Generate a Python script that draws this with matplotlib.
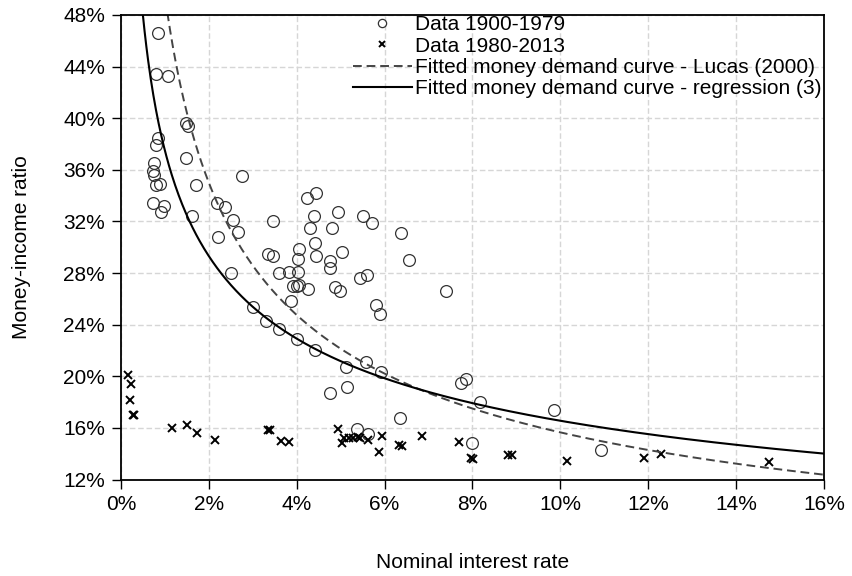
import numpy as np
import matplotlib
matplotlib.use("Agg")
import matplotlib.pyplot as plt
from matplotlib.ticker import FuncFormatter

plt.rcParams['font.family'] = ['Liberation Sans', 'DejaVu Sans']

# money-income data 1900-1979 (interest rate %, ratio %)
old_rate = [0.85, 0.79, 1.07, 1.47, 1.53, 0.85, 0.79, 0.76, 0.74, 0.76, 0.79, 0.89,
            1.48, 1.71, 2.75, 0.74, 0.99, 0.92, 1.62, 2.18, 2.37, 2.55, 2.66, 2.21,
            3.47, 4.23, 4.43, 4.40, 4.95, 4.30, 4.81, 5.51, 5.71, 6.37, 4.06, 4.41,
            3.35, 3.45, 4.02, 4.45, 5.04, 4.76, 4.76, 6.56, 3.59, 3.83, 4.04, 2.50,
            5.45, 5.61, 3.92, 4.00, 4.06, 4.26, 4.88, 4.99, 7.39, 3.88, 5.81, 5.89,
            3.01, 3.29, 3.59, 4.00, 4.42, 5.58, 5.12, 5.92, 5.14, 4.76, 6.35, 5.37,
            5.63, 7.74, 7.85, 8.17, 9.85, 8.00, 10.92]
old_ratio = [46.6, 43.4, 43.3, 39.6, 39.4, 38.5, 37.9, 36.5, 35.9, 35.6, 34.8, 34.9,
             36.9, 34.8, 35.5, 33.4, 33.2, 32.7, 32.4, 33.4, 33.1, 32.1, 31.2, 30.8,
             32.0, 33.8, 34.2, 32.4, 32.75, 31.5, 31.5, 32.4, 31.9, 31.1, 29.9, 30.3,
             29.5, 29.3, 29.1, 29.3, 29.6, 28.9, 28.4, 29.0, 28.0, 28.1, 28.1, 28.0,
             27.6, 27.85, 27.0, 27.0, 27.1, 26.8, 26.9, 26.6, 26.6, 25.85, 25.5, 24.85,
             25.4, 24.25, 23.7, 22.9, 22.0, 21.1, 20.7, 20.3, 19.2, 18.7, 16.8, 15.9,
             15.55, 19.5, 19.8, 18.0, 17.4, 14.8, 14.3]

# data 1980-2013
new_rate = [0.15, 0.23, 0.20, 0.27, 0.30, 1.15, 1.51, 1.72, 2.15, 3.34, 3.39, 3.64,
            3.82, 4.95, 5.02, 5.07, 5.20, 5.29, 5.39, 5.44, 5.63, 5.95, 5.87, 6.33,
            6.39, 6.86, 7.69, 7.96, 8.02, 8.81, 8.89, 10.16, 11.9, 12.3, 14.75]
new_ratio = [20.1, 19.4, 18.2, 17.0, 17.0, 16.0, 16.2, 15.6, 15.1, 15.8, 15.8, 15.0,
             14.9, 15.9, 14.8, 15.2, 15.2, 15.2, 15.3, 15.2, 15.1, 15.4, 14.1, 14.65,
             14.6, 15.4, 14.9, 13.7, 13.6, 13.9, 13.9, 13.4, 13.7, 13.95, 13.35]

# fitted curves  m = A * r^(-b)
lucas_A, lucas_b = 0.0495, 0.5
reg_A, reg_b = 0.0731, 0.355

r = np.linspace(0.001, 0.16, 800)
lucas = lucas_A * r ** (-lucas_b)
reg = reg_A * r ** (-reg_b)

fig = plt.figure(figsize=(8.52, 5.76), dpi=100)
ax = fig.add_axes([0.142, 0.1675, 0.825, 0.8065])

ax.plot(np.array(old_rate) / 100, np.array(old_ratio) / 100, 'o', ms=8.5, mfc='none',
        mec='#333333', mew=0.9, label='Data 1900-1979')
ax.plot(np.array(new_rate) / 100, np.array(new_ratio) / 100, 'x', ms=6, color='black',
        mew=1.4, label='Data 1980-2013')
ax.plot(r, lucas, '--', color='#444444', lw=1.4, dashes=(4.5, 2.5),
        label='Fitted money demand curve - Lucas (2000)')
ax.plot(r, reg, '-', color='black', lw=1.5,
        label='Fitted money demand curve - regression (3)')

ax.set_xlim(0, 0.16)
ax.set_ylim(0.12, 0.48)
ax.set_xticks(np.arange(0, 0.161, 0.02))
ax.set_yticks(np.arange(0.12, 0.481, 0.04))
pct = FuncFormatter(lambda v, p: f"{v * 100:.0f}%")
ax.xaxis.set_major_formatter(pct)
ax.yaxis.set_major_formatter(pct)
ax.tick_params(direction='out', length=6.5, width=1, labelsize=15, pad=5)
ax.grid(True, color='#d6d6d6', ls='--', lw=1, dashes=(4, 2))
ax.set_axisbelow(True)
for s in ax.spines.values():
    s.set_linewidth(1.3)

ax.set_xlabel('Nominal interest rate', fontsize=15, labelpad=28)
ax.set_ylabel('Money-income ratio', fontsize=15, labelpad=23)

leg = ax.legend(loc='upper right', bbox_to_anchor=(1.014, 1.026), frameon=False,
                fontsize=15, handlelength=2.8, handletextpad=0.15,
                labelspacing=0.11, borderpad=0.1, markerscale=0.7)

fig.savefig('out.png', dpi=100)
